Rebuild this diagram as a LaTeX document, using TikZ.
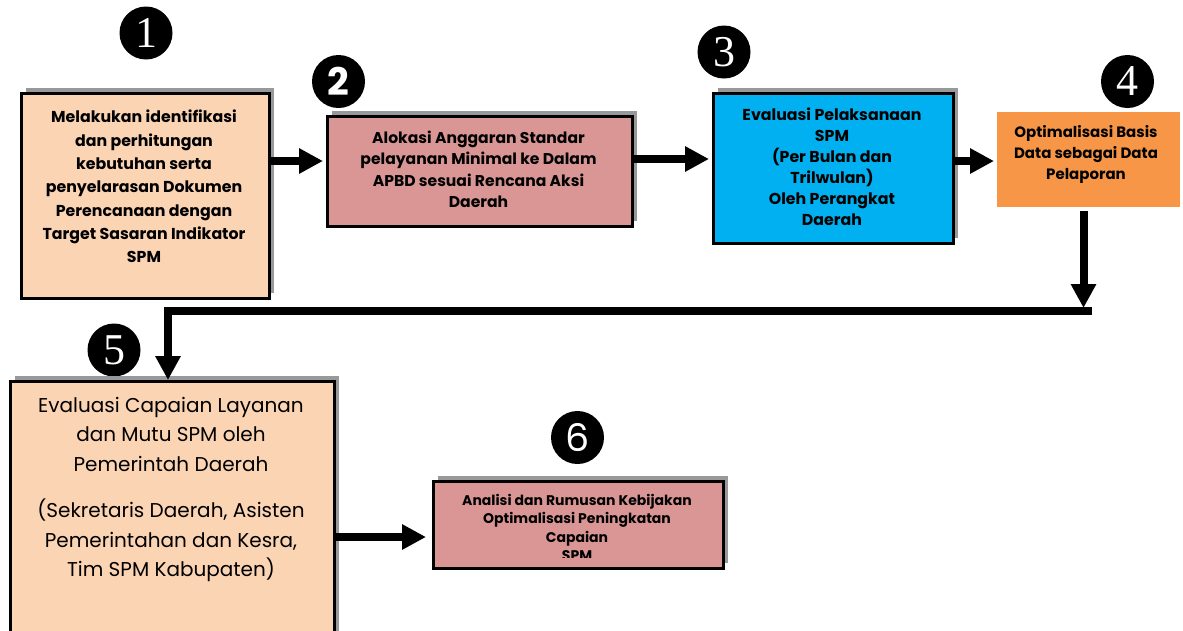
\documentclass[tikz,border=0pt]{standalone}
\usepackage{fontspec}
\setmainfont{Poppins}
\newfontfamily\ser{Liberation Serif}
\newfontfamily\pop{Poppins}
\usetikzlibrary{arrows.meta,shadows}
\definecolor{peach}{HTML}{FBD4B4}
\definecolor{rose}{HTML}{D99694}
\definecolor{cyanb}{HTML}{00B0F0}
\definecolor{orangeb}{HTML}{F79646}
\definecolor{shadowgray}{HTML}{999999}
\tikzset{
  boxbase/.style={draw=black, line width=2.5pt, anchor=north west, inner sep=0pt,
    drop shadow={shadow xshift=5pt, shadow yshift=5pt, fill=shadowgray, opacity=1}},
  boxtext/.style={anchor=north, inner sep=0pt, align=center, text=black},
  arr/.style={line width=8pt, -{Triangle[length=24pt,width=24pt]}},
  numcirc/.style={circle, fill=black, inner sep=0pt, minimum size=53pt, text=white},
}
\begin{document}
\begin{tikzpicture}[x=1pt,y=-1pt]
\clip (0,0) rectangle (1183,630);
\fill[white] (0,0) rectangle (1183,630);

% number circles
\node[numcirc] (c1) at (146,33) {\ser\fontsize{44}{44}\selectfont 1};
\node[numcirc] (c2) at (338.5,81.5) {\pop\bfseries\fontsize{38}{38}\selectfont 2};
\node[numcirc] (c3) at (724,52) {\ser\fontsize{44}{44}\selectfont 3};
\node[numcirc] (c4) at (1127.5,81.5) {\ser\fontsize{44}{44}\selectfont 4};
\node[numcirc] (c5) at (114,350) {\ser\fontsize{44}{44}\selectfont 5};
\node[numcirc] (c6) at (577.5,437.5) {\pop\fontsize{38}{38}\selectfont 6};

% boxes
\node[boxbase, fill=peach, minimum width=248pt, minimum height=205pt] (b1) at (20,92) {};
\node[boxbase, fill=rose, minimum width=305pt, minimum height=110pt] (b2) at (326,115) {};
\node[boxbase, fill=cyanb, minimum width=240pt, minimum height=150pt] (b3) at (712,92) {};
\node[fill=orangeb, anchor=north west, inner sep=0pt, minimum width=183pt, minimum height=95pt] (b4) at (997,112) {};
\node[boxbase, fill=peach, minimum width=324pt, minimum height=270pt] (b5) at (9,380) {};
\node[boxbase, fill=rose, minimum width=290pt, minimum height=87pt] (b6) at (432,480) {};

% texts
\node[boxtext, font=\bfseries\fontsize{15.8}{23.3}\selectfont] (t1) at (144,110)
  {Melakukan identifikasi\\dan perhitungan\\kebutuhan serta\\penyelarasan Dokumen\\Perencanaan dengan\\Target Sasaran Indikator\\SPM};
\node[boxtext, font=\bfseries\fontsize{15.6}{21.2}\selectfont] (t2) at (478.5,131)
  {Alokasi Anggaran Standar\\pelayanan Minimal ke Dalam\\APBD sesuai Rencana Aksi\\Daerah};
\node[boxtext, font=\bfseries\fontsize{15.8}{21}\selectfont] (t3) at (832,108)
  {Evaluasi Pelaksanaan\\SPM\\(Per Bulan dan\\Trilwulan)\\Oleh Perangkat\\Daerah};
\node[boxtext, font=\bfseries\fontsize{15}{21}\selectfont] (t4) at (1086,125)
  {Optimalisasi Basis\\Data sebagai Data\\Pelaporan};
\node[boxtext, font=\fontsize{20}{29.5}\selectfont] (t5) at (171,397)
  {Evaluasi Capaian Layanan\\dan Mutu SPM oleh\\Pemerintah Daerah\\[17pt](Sekretaris Daerah, Asisten\\Pemerintahan dan Kesra,\\Tim SPM Kabupaten)};
\begin{scope}
\clip (434,482) rectangle (720,557);
\node[boxtext, font=\bfseries\fontsize{14}{18.5}\selectfont] (t6) at (577,494)
  {Analisi dan Rumusan Kebijakan\\Optimalisasi Peningkatan\\Capaian\\SPM};
\end{scope}

% connectors
\coordinate (y12) at (0,161);
\coordinate (y23) at (0,159);
\coordinate (y34) at (0,161);
\coordinate (y56) at (0,537);
\coordinate (x4) at (1083.5,0);
\coordinate (jr) at (1092,311);
\coordinate (jl) at (168,311);
\coordinate (j4) at (1083.5,308);

\draw[arr, shorten >=3pt] (b1.east |- y12) -- (b2.west |- y12);
\draw[arr, shorten >=3pt] (b2.east |- y23) -- (b3.west |- y23);
\draw[arr, shorten >=3pt] (b3.east |- y34) -- (b4.west |- y34);
\draw[arr, shorten >=6pt] (b5.east |- y56) -- (b6.west |- y56);
\draw[arr, shorten <=4pt] (b4.south -| x4) -- (j4);
\draw[arr, line join=miter] (jr) -- (jl) -- (b5.north -| jl);
\end{tikzpicture}
\end{document}
